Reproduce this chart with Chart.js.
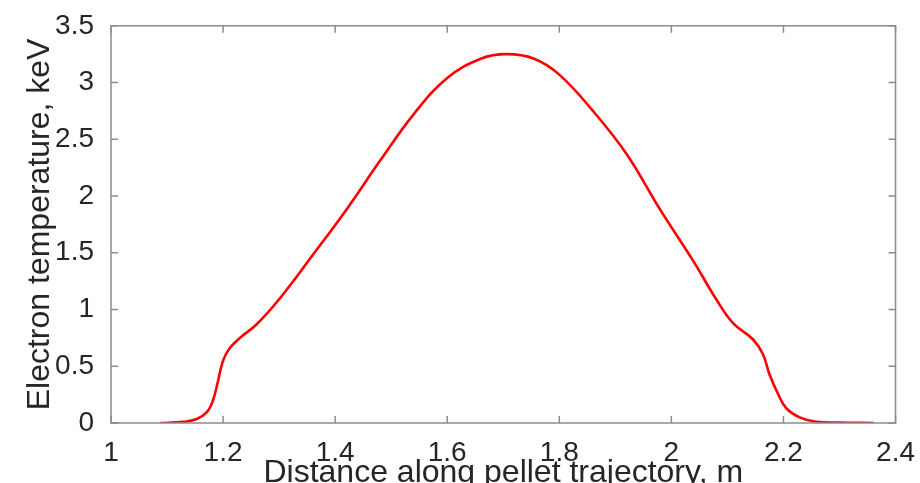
<!DOCTYPE html>
<html lang="en">
<head>
  <meta charset="UTF-8">
  <title>Electron temperature</title>
  <script src="https://cdn.jsdelivr.net/npm/chart.js"></script>
  <style>
    body {
      margin: 0;
      background: #fff;
      overflow: hidden;
    }
  </style>
</head>
<body>
  <canvas id="teChart" width="920" height="483"></canvas>

  <script>
    // distance along trajectory (m) and electron temperature (keV)
    const distance = [1.088, 1.128, 1.153, 1.171, 1.182, 1.191, 1.2, 1.212, 1.23, 1.26,
      1.30, 1.36, 1.42, 1.48, 1.54, 1.60, 1.66, 1.706, 1.755, 1.80,
      1.86, 1.92, 1.98, 2.04, 2.08, 2.11, 2.145, 2.163, 2.175, 2.19,
      2.205, 2.229, 2.259, 2.30, 2.361];
    const temperature = [0, 0.01, 0.035, 0.095, 0.2, 0.37, 0.55, 0.66, 0.75, 0.87,
      1.09, 1.48, 1.88, 2.31, 2.72, 3.04, 3.21, 3.25, 3.21, 3.07,
      2.75, 2.37, 1.88, 1.42, 1.09, 0.88, 0.74, 0.61, 0.43, 0.26,
      0.13, 0.05, 0.01, 0.003, 0];

    const xTicks = [1, 1.2, 1.4, 1.6, 1.8, 2, 2.2, 2.4];
    const yTicks = [0, 0.5, 1, 1.5, 2, 2.5, 3, 3.5];

    const axisColor = '#8c8c8c';
    const textColor = '#262626';
    const fontFamily = '"Liberation Sans", Arial, Helvetica, sans-serif';

    const fmt = v => String(parseFloat(Number(v).toFixed(2)));

    // box round the plot with inward ticks on all four sides
    const framePlugin = {
      id: 'frame',
      afterDraw(chart) {
        const ctx = chart.ctx;
        const a = chart.chartArea;
        const xs = chart.scales.x, ys = chart.scales.y;
        const len = 7;
        ctx.save();
        ctx.strokeStyle = axisColor;
        ctx.lineWidth = 1.5;
        ctx.strokeRect(a.left, a.top, a.right - a.left, a.bottom - a.top);
        ctx.beginPath();
        xTicks.forEach(v => {
          const px = xs.getPixelForValue(v);
          ctx.moveTo(px, a.bottom); ctx.lineTo(px, a.bottom - len);
          ctx.moveTo(px, a.top); ctx.lineTo(px, a.top + len);
        });
        yTicks.forEach(v => {
          const py = ys.getPixelForValue(v);
          ctx.moveTo(a.left, py); ctx.lineTo(a.left + len, py);
          ctx.moveTo(a.right, py); ctx.lineTo(a.right - len, py);
        });
        ctx.stroke();
        ctx.restore();
      }
    };

    const ctx = document.getElementById('teChart').getContext('2d');
    const teChart = new Chart(ctx, {
      type: 'line',
      data: {
        datasets: [{
          data: distance.map((d, i) => ({ x: d, y: temperature[i] })),
          borderColor: '#ff0000',
          borderWidth: 2.6,
          pointRadius: 0,
          fill: false,
          tension: 0.4
        }]
      },
      options: {
        responsive: false,
        animation: false,
        layout: { padding: { top: 20, right: 24, left: 0, bottom: 0 } },
        plugins: {
          legend: { display: false },
          tooltip: { enabled: false }
        },
        scales: {
          x: {
            type: 'linear',
            min: 1,
            max: 2.4,
            afterBuildTicks: s => { s.ticks = xTicks.map(v => ({ value: v })); },
            afterFit: s => { s.height = 60; },
            grid: { display: false },
            border: { display: false },
            ticks: {
              color: textColor,
              padding: 5,
              maxRotation: 0,
              autoSkip: false,
              callback: fmt,
              font: { family: fontFamily, size: 28 }
            },
            title: {
              display: true,
              text: 'Distance along pellet trajectory, m',
              color: textColor,
              padding: { top: 0, bottom: -6 },
              font: { family: fontFamily, size: 32, lineHeight: 1 }
            }
          },
          y: {
            min: 0,
            max: 3.5,
            afterBuildTicks: s => { s.ticks = yTicks.map(v => ({ value: v })); },
            afterFit: s => { s.width = 111; },
            grid: { display: false },
            border: { display: false },
            ticks: {
              color: textColor,
              padding: 9,
              autoSkip: false,
              callback: fmt,
              font: { family: fontFamily, size: 28 }
            },
            title: {
              display: true,
              text: 'Electron temperature, keV',
              color: textColor,
              padding: { top: 24, bottom: 0 },
              font: { family: fontFamily, size: 32, lineHeight: 1 }
            }
          }
        }
      },
      plugins: [framePlugin]
    });
  </script>
</body>
</html>
